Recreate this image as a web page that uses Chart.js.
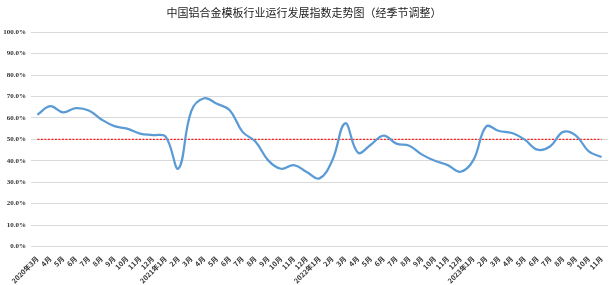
<!DOCTYPE html>
<html>
<head>
<meta charset="utf-8">
<script src="https://cdn.jsdelivr.net/npm/chart.js@4.4.0/dist/chart.umd.min.js"></script>
<style>
  body { margin: 0; background: #fff; }
  #wrap { width: 614px; height: 285px; }
</style>
</head>
<body>
<div id="wrap"><canvas id="indexChart"></canvas></div>
<script>
// 月份标签
const months = [
  '2020年3月', '4月', '5月', '6月', '7月', '8月', '9月', '10月', '11月', '12月',
  '2021年1月', '2月', '3月', '4月', '5月', '6月', '7月', '8月', '9月', '10月', '11月', '12月',
  '2022年1月', '2月', '3月', '4月', '5月', '6月', '7月', '8月', '9月', '10月', '11月', '12月',
  '2023年1月', '2月', '3月', '4月', '5月', '6月', '7月', '8月', '9月', '10月', '11月'
];

// 发展指数 (%)
const indexValues = [
  61.5, 65.5, 62.6, 64.6, 63.5, 59.3, 56.2, 55.0, 52.7, 52.0,
  51.3, 36.4, 63.2, 69.2, 66.6, 63.6, 53.5, 49.0, 40.2, 36.3, 38.0, 34.8,
  31.8, 40.3, 57.5, 43.8, 47.5, 51.8, 48.0, 47.0, 42.9, 40.0, 38.0, 34.9,
  40.3, 56.0, 53.9, 53.0, 49.9, 45.2, 46.8, 53.5, 51.8, 44.4, 41.8
];

// 荣枯线
const baseline = 50;

const yTicks = [0, 10, 20, 30, 40, 50, 60, 70, 80, 90, 100];

const ctx = document.getElementById('indexChart').getContext('2d');
const indexChart = new Chart(ctx, {
    type: 'line',
    data: {
        labels: months,
        datasets: [{
            label: '发展指数',
            data: indexValues,
            borderColor: '#5b9bd5',
            borderWidth: 2.25,
            pointRadius: 0,
            tension: 0.4,
            fill: false,
            order: 1
        }, {
            label: '荣枯线',
            data: months.map(() => baseline),
            borderColor: '#ff1a1a',
            borderWidth: 1.2,
            borderDash: [2, 1.5],
            pointRadius: 0,
            fill: false,
            order: 2
        }]
    },
    options: {
        responsive: true,
        maintainAspectRatio: false,
        animation: false,
        layout: { padding: { left: 0, right: 6, top: 0, bottom: 0 } },
        plugins: {
            legend: { display: false },
            tooltip: { enabled: false },
            title: {
                display: true,
                text: '中国铝合金模板行业运行发展指数走势图（经季节调整）',
                color: '#222',
                font: { family: 'Noto Sans CJK SC', size: 11, weight: 'normal' },
                padding: { top: 6, bottom: 13 }
            }
        },
        scales: {
            y: {
                min: 0,
                max: 100,
                afterBuildTicks: (axis) => { axis.ticks = yTicks.map(v => ({ value: v })); },
                afterFit: (axis) => { axis.width = 31; },
                grid: { color: '#d9d9d9', lineWidth: 1, drawTicks: false },
                border: { display: false },
                ticks: {
                    padding: 5,
                    color: '#333',
                    font: { family: 'Liberation Serif', size: 7, weight: 'bold' },
                    callback: (v) => v.toFixed(1) + '%'
                }
            },
            x: {
                offset: true,
                grid: { display: false },
                border: { display: false },
                ticks: {
                    autoSkip: false,
                    maxRotation: 45,
                    minRotation: 45,
                    padding: 0,
                    color: '#333',
                    font: { family: 'Noto Sans CJK SC', size: 7, weight: 'bold' }
                }
            }
        }
    }
});
</script>
</body>
</html>
